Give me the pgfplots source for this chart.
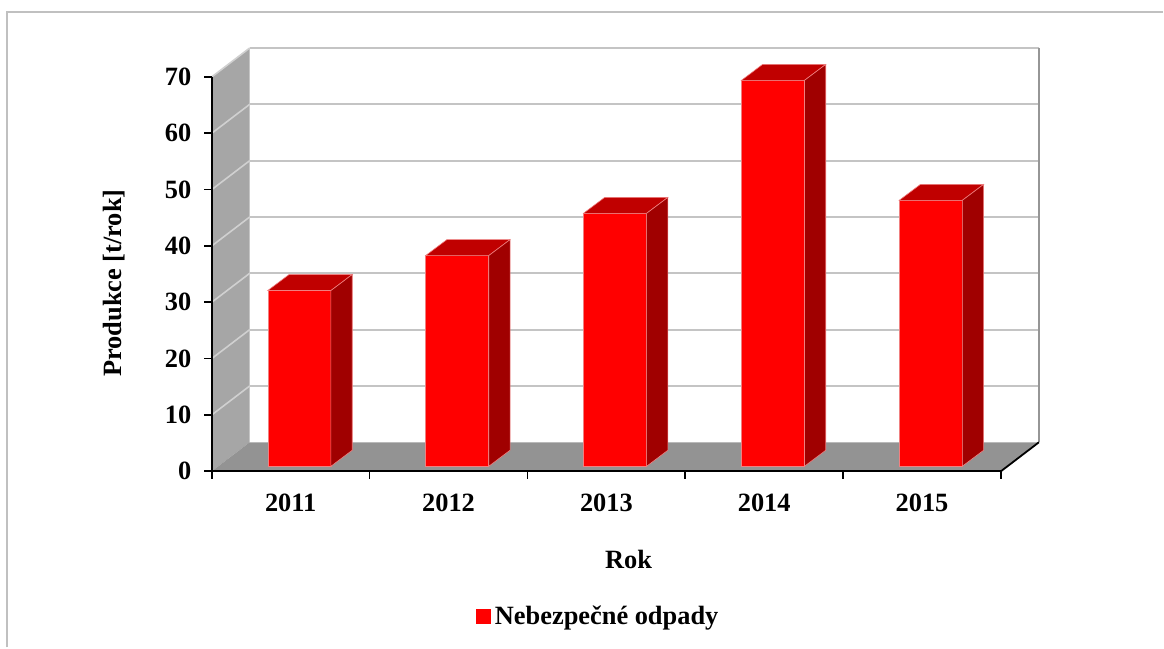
\documentclass[border=0pt]{standalone}
\usepackage{pgfplots}
\usepackage{pgfplotstable}
\pgfplotsset{compat=1.18}
\usepackage{fontspec}
\setmainfont{Liberation Serif}
\definecolor{barfront}{HTML}{FF0000}
\definecolor{bartop}{HTML}{C00000}
\definecolor{barside}{HTML}{A00000}
\definecolor{baredge}{HTML}{F08080}
\definecolor{wallc}{HTML}{A6A6A6}
\definecolor{floorc}{HTML}{939393}
\definecolor{gridc}{HTML}{C4C4C4}
\definecolor{wallgrid}{HTML}{D0D0D0}
\definecolor{framec}{HTML}{C0C0C0}

\pgfplotstableread{
x v
0 31.2
1 37.4
2 44.9
3 68.5
4 47.2
}\datatable

\newcommand{\lblfont}{\fontsize{13.2}{15.5}\selectfont\bfseries}

\begin{document}
\begin{tikzpicture}
\begin{axis}[
  name=ax,
  scale only axis, width=395pt, height=197.35pt,
  xmin=-0.5, xmax=4.5, ymin=0, ymax=70,
  clip=false, axis on top,
  axis x line*=bottom, axis y line*=left,
  axis line style={black, line width=0.9pt},
  tick align=outside, major tick length=3.75pt,
  tick style={black, line width=0.8pt},
  xtick={-0.5,0.5,1.5,2.5,3.5,4.5},
  xticklabels={2011,2012,2013,2014,2015},
  x tick label as interval,
  ytick={0,10,20,30,40,50,60,70},
  minor tick num=0,
  /pgf/number format/assume math mode=true,
  tick label style={font=\lblfont},
  xticklabel style={yshift=-4pt},
  yticklabel style={xshift=-3pt},
  xlabel={Rok},
  ylabel={Produkce [t/rok]},
  every axis x label/.style={at={(axis description cs:0.528,-0.224)}, anchor=center, font=\lblfont},
  every axis y label/.style={at={(axis description cs:-0.124,0.477)}, rotate=90, anchor=center, font=\lblfont},
  legend style={at={(axis description cs:0.491,-0.368)}, anchor=center, draw=none, fill=none, font=\lblfont, inner sep=0pt},
]
% left wall
\addplot[fill=wallc, draw=none, forget plot] coordinates {(-0.5,0) (-0.5,70) (-0.2595,75.143) (-0.2595,5.143)} -- cycle;
\pgfplotsinvokeforeach{10,20,30,40,50,60}{
  \pgfmathsetmacro\ga{#1+5.143}
  \edef\temp{\noexpand\addplot[wallgrid, line width=0.8pt, forget plot] coordinates {(-0.5,#1) (-0.2595,\ga)};
   \noexpand\addplot[gridc, line width=1pt, forget plot] coordinates {(-0.2595,\ga) (4.7405,\ga)};}
  \temp
}
\addplot[wallgrid, line width=0.8pt, forget plot] coordinates {(-0.5,70) (-0.2595,75.143)};
\addplot[gridc, line width=1pt, forget plot] coordinates {(-0.2595,75.143) (4.7405,75.143)};
\addplot[color={rgb,255:red,150;green,150;blue,150}, line width=1.1pt, forget plot] coordinates {(4.7405,75.143) (4.7405,5.143)};
% floor
\addplot[fill=floorc, draw=none, forget plot] coordinates {(-0.5,0) (4.5,0) (4.7405,5.143) (-0.2595,5.143)} -- cycle;
\addplot[black, line width=0.9pt, forget plot] coordinates {(4.5,0) (4.7405,5.143)};
% bars
\pgfplotsinvokeforeach{0,1,2,3,4}{
  \pgfplotstablegetelem{#1}{v}\of\datatable
  \pgfmathsetmacro\yt{0.887+\pgfplotsretval}
  \pgfmathsetmacro\xl{#1+0.055-0.2}
  \pgfmathsetmacro\xr{#1+0.055+0.2}
  \pgfmathsetmacro\xlr{\xl+0.135}
  \pgfmathsetmacro\xrr{\xr+0.135}
  \pgfmathsetmacro\yb{0.887}
  \pgfmathsetmacro\ybb{0.887+2.84}
  \pgfmathsetmacro\ytt{\yt+2.84}
  \edef\temp{%
   \noexpand\addplot[fill=barfront, draw=baredge, line width=0.3pt, forget plot] coordinates {(\xl,\yb) (\xr,\yb) (\xr,\yt) (\xl,\yt)} -- cycle;
   \noexpand\addplot[fill=bartop, draw=baredge, line width=0.3pt, forget plot] coordinates {(\xl,\yt) (\xr,\yt) (\xrr,\ytt) (\xlr,\ytt)} -- cycle;
   \noexpand\addplot[fill=barside, draw=baredge, line width=0.3pt, forget plot] coordinates {(\xr,\yb) (\xrr,\ybb) (\xrr,\ytt) (\xr,\yt)} -- cycle;}
  \temp
}
\addlegendimage{legend image code/.code={\fill[barfront] (0pt,-3.5pt) rectangle (7pt,3.5pt);}}
\addlegendentry{Nebezpečné odpady}
\end{axis}
\path ([shift={(-106pt,-88.15pt)}]ax.south west) rectangle ([shift={(476pt,235.85pt)}]ax.south west);
\draw[framec, line width=1.2pt] ([shift={(-102.5pt,-88.15pt)}]ax.south west) -- ([shift={(-102.5pt,229.85pt)}]ax.south west) -- ([shift={(476pt,229.85pt)}]ax.south west);
\end{tikzpicture}
\end{document}
